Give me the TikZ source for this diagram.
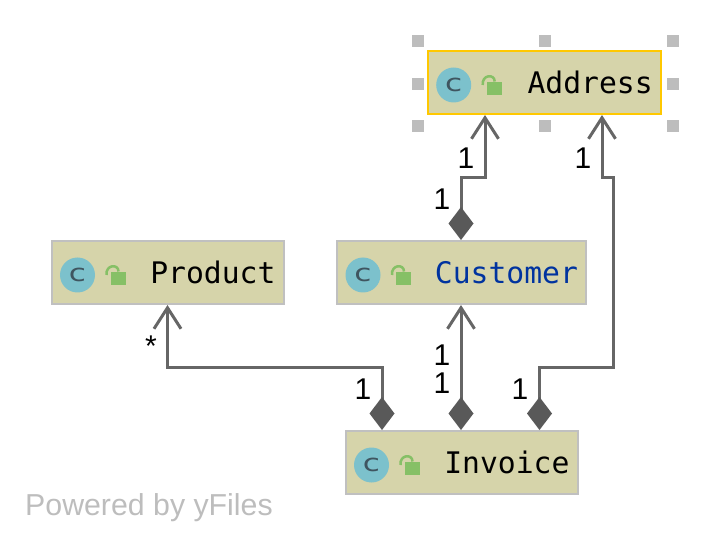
\documentclass[tikz,border=0pt]{standalone}
\usepackage{fontspec}
\setmainfont{Liberation Sans}
\newfontfamily\classfont{DejaVu Sans Mono}
\newfontfamily\iconfont{DejaVu Sans}
\usetikzlibrary{arrows.meta,calc}
\definecolor{boxfill}{HTML}{D6D4AA}
\definecolor{boxline}{HTML}{C0C0C0}
\definecolor{selline}{HTML}{FFC800}
\definecolor{edgeline}{HTML}{666666}
\definecolor{edgetip}{HTML}{595959}
\definecolor{iconfill}{HTML}{7CC1CC}
\definecolor{iconc}{HTML}{3F5560}
\definecolor{lockfill}{HTML}{86C066}
\definecolor{handle}{HTML}{BDBDBD}
\definecolor{typeblue}{HTML}{00339F}
\tikzset{
	classbox/.style={draw=boxline, fill=boxfill, line width=2pt, minimum height=63pt, inner xsep=8pt, inner ysep=0pt, text width=#1, align=flush right, font=\classfont\fontsize{29.7}{32}\selectfont},
	classicon/.style={circle, fill=iconfill, minimum size=35pt, inner sep=0pt, text=iconc, font=\iconfont\fontsize{24}{24}\selectfont},
	assoc/.style={draw=edgeline, line width=3pt, {Diamond[length=33pt, width=25pt, line width=0pt, color=edgetip, fill=edgetip]}-{Straight Barb[length=21pt, width=27pt, color=edgeline]}},
	mult/.style={font=\fontsize{30}{31}\selectfont},
	selhandle/.style={fill=handle, minimum size=12.5pt, inner sep=0pt}
}
\newcommand{\classmarks}[1]{
	\node[classicon] (#1icon) at ($(#1.west)+(27,2.5)$) {\scalebox{1.3}[1]{c}};
	\fill[lockfill] ($(#1.west)+(60,-0.5)$) rectangle ($(#1.west)+(75,12.5)$);
	\draw[lockfill, line width=2.5pt] ($(#1.west)+(56,2.5)$) .. controls ($(#1.west)+(55,-8)$) and ($(#1.west)+(68,-9)$) .. ($(#1.west)+(68,-1)$);
}

\begin{document}
\begin{tikzpicture}[x=1pt, y=-1pt]
			%%%%% START %%%%%
			\useasboundingbox (0, 0) rectangle (712, 545);
			
			\node[selhandle] (h1) at (418, 41) {};
			\node[selhandle] (h2) at (545, 41) {};
			\node[selhandle] (h3) at (673, 41) {};
			\node[selhandle] (h4) at (418, 84) {};
			\node[selhandle] (h5) at (673, 84) {};
			\node[selhandle] (h6) at (418, 126) {};
			\node[selhandle] (h7) at (545, 126) {};
			\node[selhandle] (h8) at (673, 126) {};
			
			\node[classbox=217pt, draw=selline] (address) at (544.2, 82.5) {Address};
			\node[classbox=233pt, text=typeblue] (customer) at (461.5, 272.5) {Customer};
			\node[classbox=216pt] (product) at (167.5, 272.5) {Product};
			\node[classbox=216pt] (invoice) at (461.5, 462.5) {Invoice};
			
			\classmarks{address}
			\classmarks{customer}
			\classmarks{product}
			\classmarks{invoice}
			
			\coordinate (inva) at (382, 0 |- invoice.north);
			\coordinate (invc) at (461, 0 |- invoice.north);
			\coordinate (invb) at (539.5, 0 |- invoice.north);
			\coordinate (cusa) at (461, 0 |- customer.north);
			\coordinate (cusb) at (461, 0 |- customer.south);
			\coordinate (adra) at (485, 0 |- address.south);
			\coordinate (adrb) at (602, 0 |- address.south);
			\coordinate (proa) at (167.5, 0 |- product.south);
			
			\draw[assoc] (inva) -- (382, 367) -- (167.5, 367) -- (proa);
			\draw[assoc] (invc) -- (cusb);
			\draw[assoc] (invb) -- (539.5, 367) -- (613, 367) -- (613, 178) -- (602, 178) -- (adrb);
			\draw[assoc] (cusa) -- (461, 178) -- (485, 178) -- (adra);
			
			\node[mult] (m1) at (466, 158) {1};
			\node[mult] (m2) at (442, 199) {1};
			\node[mult] (m3) at (583, 158) {1};
			\node[mult] (m4) at (363, 389) {1};
			\node[mult] (m5) at (442, 355) {1};
			\node[mult] (m6) at (442, 383) {1};
			\node[mult] (m7) at (520, 389) {1};
			\node[mult] (m8) at (151, 346) {*};
			
			\node[anchor=base west, inner sep=0pt, text=handle, font=\fontsize{30.3}{31}\selectfont] (powered) at (25, 515) {Powered by yFiles};
			%%%%% END %%%%%
		\end{tikzpicture}
\end{document}
